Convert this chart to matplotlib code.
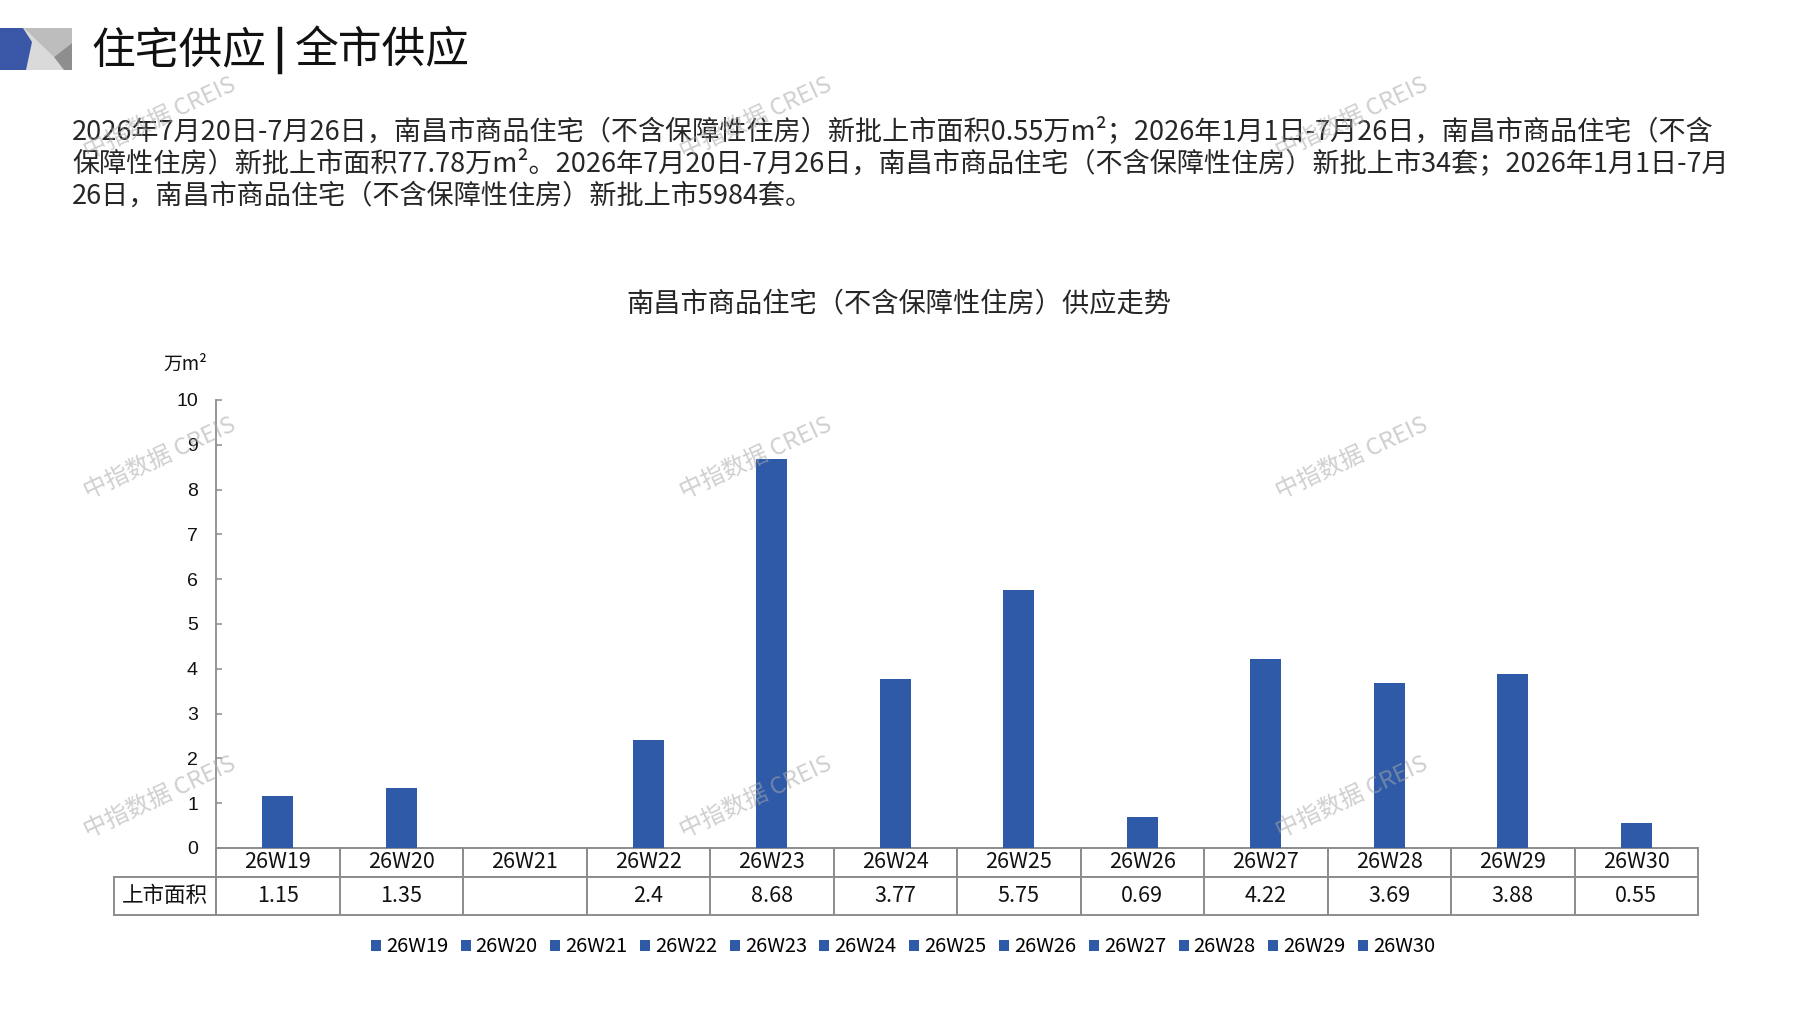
import numpy as np
import matplotlib
matplotlib.use('Agg')
import matplotlib.pyplot as plt
from matplotlib.patches import Polygon
from matplotlib.lines import Line2D
from matplotlib.table import Table

# ---------------- data ----------------
categories = ['26W19', '26W20', '26W21', '26W22', '26W23', '26W24',
              '26W25', '26W26', '26W27', '26W28', '26W29', '26W30']
supply_area = [1.15, 1.35, np.nan, 2.4, 8.68, 3.77, 5.75, 0.69, 4.22, 3.69, 3.88, 0.55]
row_label = '上市面积'
y_ticks = [0, 1, 2, 3, 4, 5, 6, 7, 8, 9, 10]
unit_label = '万m²'
chart_title = '南昌市商品住宅（不含保障性住房）供应走势'
header_left = '住宅供应'
header_right = '全市供应'
paragraph_lines = [
    '2026年7月20日-7月26日，南昌市商品住宅（不含保障性住房）新批上市面积0.55万m²；2026年1月1日-7月26日，南昌市商品住宅（不含',
    '保障性住房）新批上市面积77.78万m²。2026年7月20日-7月26日，南昌市商品住宅（不含保障性住房）新批上市34套；2026年1月1日-7月',
    '26日，南昌市商品住宅（不含保障性住房）新批上市5984套。',
]
watermark = '中指数据 CREIS'

# ---------------- style ----------------
W, H = 1797, 1010
BAR = '#2E5AA7'
GRID = '#8C8C8C'
CJK = ['Noto Sans CJK SC', 'DejaVu Sans']
plt.rcParams['font.family'] = CJK

fig = plt.figure(figsize=(W / 100, H / 100), dpi=100)
fig.patch.set_facecolor('white')


def fx(x):
    return x / W


def fy(y):
    return 1 - y / H


# ---- header logo ----
def poly(pts, color):
    fig.add_artist(Polygon([(fx(a), fy(b)) for a, b in pts], closed=True,
                           transform=fig.transFigure, facecolor=color,
                           edgecolor='none'))


poly([(0, 28), (72, 28), (72, 70), (0, 70)], '#DADADA')
poly([(24, 28), (72, 28), (72, 43), (54, 57)], '#BDBDBD')
poly([(72, 43), (54, 57), (64, 70), (72, 70)], '#8E8E8E')
poly([(0, 28), (23, 28), (32, 42), (26, 70), (0, 70)], '#3A56A6')

fig.text(fx(91), fy(50), header_left, fontsize=31.5, va='center', ha='left', color='#111111')
fig.add_artist(Line2D([fx(280), fx(280)], [fy(29), fy(72)], transform=fig.transFigure,
                      color='#111111', lw=3.2))
fig.text(fx(295), fy(50), header_right, fontsize=31.5, va='center', ha='left', color='#111111')

# ---- paragraph ----
for i, line in enumerate(paragraph_lines):
    fig.text(fx(72), fy(131 + 32.5 * i), line, fontsize=19.5, va='center', ha='left',
             color='#262626')

# ---- chart title ----
fig.text(fx(899), fy(304), chart_title, fontsize=19.6, va='center', ha='center',
         color='#262626')

# ---- axes ----
ax_left, ax_right, ax_top, ax_bottom = 216, 1698, 400, 848
ax = fig.add_axes([fx(ax_left), fy(ax_bottom), (ax_right - ax_left) / W,
                   (ax_bottom - ax_top) / H])
x = np.arange(len(categories))
for i, (c, v) in enumerate(zip(categories, supply_area)):
    ax.bar(x[i], v, width=0.25, color=BAR, label=c, zorder=2)

ax.set_xlim(-0.5, len(categories) - 0.5)
ax.set_ylim(0, 10)
ax.set_yticks(y_ticks)
ax.set_xticks([])
for s in ['top', 'right', 'bottom']:
    ax.spines[s].set_visible(False)
ax.spines['left'].set_color(GRID)
ax.spines['left'].set_linewidth(1.3)
ax.tick_params(axis='y', direction='in', length=4, width=1.1, color=GRID,
               labelsize=14, pad=13, labelcolor='#111111')
for lbl in ax.get_yticklabels():
    lbl.set_fontfamily(['Liberation Sans', 'DejaVu Sans'])

fig.text(fx(185), fy(364), unit_label, fontsize=13.5, va='center', ha='center',
         color='#111111')

# ---- data table (bbox covers the data grid; row label sits to its left) ----
axw = ax_right - ax_left
axh = ax_bottom - ax_top
rlw = 102 / axw
h0 = 29 / axh
h1 = 38 / axh
cw = 1 / len(categories)
tb = Table(ax, bbox=[0, -(h0 + h1), 1, h0 + h1])
cell_text = ['' if np.isnan(v) else f'{v:g}' for v in supply_area]
for j, c in enumerate(categories):
    tb.add_cell(0, j, width=cw, height=h0, text=c, loc='center')
    tb.add_cell(1, j, width=cw, height=h1, text=cell_text[j], loc='center')
tb.add_cell(1, -1, width=rlw, height=h1, text=row_label, loc='center')
tb.auto_set_font_size(False)
tb.set_fontsize(15.5)
for (r, c), cell in tb.get_celld().items():
    cell.set_edgecolor(GRID)
    cell.set_linewidth(1.4)
    cell.get_text().set_color('#111111')
tb[1, -1].get_text().set_fontsize(15.5)
ax.add_table(tb)

# ---- legend ----
handles, labels = ax.get_legend_handles_labels()
fig.legend(handles, labels, ncol=len(categories), loc='center',
           bbox_to_anchor=(fx(903), fy(947)), bbox_transform=fig.transFigure,
           frameon=False, fontsize=14.5, handlelength=0.5, handleheight=0.5,
           handletextpad=0.25, columnspacing=0.62, borderaxespad=0, borderpad=0)

# ---- watermarks ----
for wx in (160, 756, 1352):
    for wy in (118, 458, 797):
        fig.text(fx(wx), fy(wy), watermark, fontsize=17, rotation=25,
                 ha='center', va='center', color='#A8A8A8', alpha=0.55, zorder=20)

fig.savefig('out.png', dpi=100, facecolor='white')
